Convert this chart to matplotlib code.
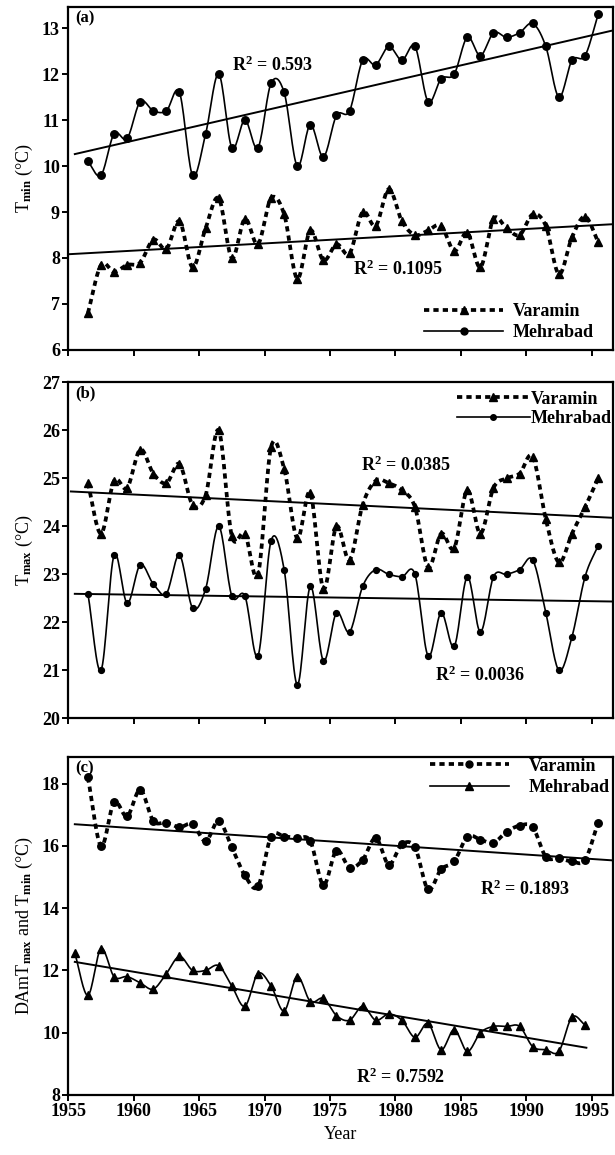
import matplotlib
matplotlib.use('Agg')
import matplotlib.pyplot as plt
from matplotlib.lines import Line2D
import numpy as np

# --------------------------
# style: bold Times-like serif, black lines only
# --------------------------
plt.rcParams.update({
    'font.family': ['Liberation Serif', 'DejaVu Serif'],
    'font.weight': 'bold',
    'font.size': 13,
    'mathtext.fontset': 'custom',
    'mathtext.rm': 'Liberation Serif:bold',
    'mathtext.it': 'Liberation Serif:italic:bold',
    'mathtext.bf': 'Liberation Serif:bold',
    'axes.linewidth': 1.6,
    'xtick.major.width': 1.4,
    'ytick.major.width': 1.4,
    'xtick.major.size': 4,
    'ytick.major.size': 4,
    'xtick.major.pad': 2,
    'ytick.major.pad': 2,
})

# --------------------------
# data
# --------------------------
years = list(range(1956, 1996))          # Varamin + Mehrabad (a), (b), Varamin (c)
years_dtr_mehrabad = list(range(1955, 1995))

tmin_varamin = [6.8, 7.85, 7.7, 7.85, 7.9, 8.4, 8.2, 8.8, 7.8, 8.65,
                9.3, 8.0, 8.85, 8.3, 9.3, 8.95, 7.55, 8.6, 7.95, 8.3,
                8.1, 9.0, 8.7, 9.5, 8.8, 8.5, 8.6, 8.7, 8.15, 8.55,
                7.8, 8.85, 8.65, 8.5, 8.95, 8.7, 7.65, 8.45, 8.9, 8.35]
tmin_mehrabad = [10.1, 9.8, 10.7, 10.6, 11.4, 11.2, 11.2, 11.6, 9.8, 10.7,
                 12.0, 10.4, 11.0, 10.4, 11.8, 11.6, 10.0, 10.9, 10.2, 11.1,
                 11.2, 12.3, 12.2, 12.6, 12.3, 12.6, 11.4, 11.9, 12.0, 12.8,
                 12.4, 12.9, 12.8, 12.9, 13.1, 12.6, 11.5, 12.3, 12.4, 13.3]

tmax_varamin = [24.9, 23.85, 24.95, 24.8, 25.6, 25.1, 24.9, 25.3, 24.45, 24.65,
                26.0, 23.8, 23.85, 23.0, 25.65, 25.2, 23.75, 24.7, 22.7, 24.0,
                23.3, 24.45, 24.95, 24.9, 24.75, 24.4, 23.15, 23.85, 23.55, 24.75,
                23.85, 24.8, 25.0, 25.1, 25.45, 24.15, 23.25, 23.85, 24.4, 25.0]
tmax_mehrabad = [22.6, 21.0, 23.4, 22.4, 23.2, 22.8, 22.6, 23.4, 22.3, 22.7,
                 24.0, 22.55, 22.55, 21.3, 23.7, 23.1, 20.7, 22.75, 21.2, 22.2,
                 21.8, 22.75, 23.1, 23.0, 22.95, 23.0, 21.3, 22.2, 21.5, 22.95,
                 21.8, 22.95, 23.0, 23.1, 23.3, 22.2, 21.0, 21.7, 22.95, 23.6]

dtr_varamin = [18.2, 16.0, 17.4, 16.95, 17.8, 16.8, 16.75, 16.6, 16.7, 16.15,
               16.8, 15.95, 15.05, 14.7, 16.3, 16.3, 16.25, 16.15, 14.75, 15.85,
               15.3, 15.55, 16.25, 15.4, 16.05, 15.95, 14.6, 15.25, 15.5, 16.3,
               16.2, 16.1, 16.45, 16.65, 16.6, 15.65, 15.6, 15.5, 15.55, 16.75]
dtr_mehrabad = [12.55, 11.2, 12.7, 11.8, 11.8, 11.6, 11.4, 11.9, 12.45, 12.0,
                12.0, 12.15, 11.5, 10.85, 11.9, 11.5, 10.7, 11.8, 11.0, 11.1,
                10.55, 10.4, 10.85, 10.4, 10.6, 10.4, 9.85, 10.3, 9.45, 10.1,
                9.4, 10.0, 10.2, 10.2, 10.2, 9.55, 9.45, 9.4, 10.5, 10.25]

r2_labels = {
    'a_mehrabad': '0.593', 'a_varamin': '0.1095',
    'b_varamin': '0.0385', 'b_mehrabad': '0.0036',
    'c_varamin': '0.1893', 'c_mehrabad': '0.7592',
}


# --------------------------
# helpers
# --------------------------
def smooth(x, y, n=16):
    """Catmull-Rom curve through the points (like Excel's smoothed line)."""
    x = np.asarray(x, float)
    y = np.asarray(y, float)
    out = []
    for v in (x, y):
        p = np.concatenate([[2 * v[0] - v[1]], v, [2 * v[-1] - v[-2]]])
        p0, p1, p2, p3 = p[:-3], p[1:-2], p[2:-1], p[3:]
        t = np.linspace(0, 1, n, endpoint=False)[:, None]
        c = 0.5 * (2 * p1 + (-p0 + p2) * t + (2 * p0 - 5 * p1 + 4 * p2 - p3) * t ** 2
                   + (-p0 + 3 * p1 - 3 * p2 + p3) * t ** 3)
        out.append(np.append(c.T.ravel(), v[-1]))
    return out


DASH = dict(lw=2.7, dashes=(1.4, 1.1), color='black')
SOLID = dict(lw=1.2, color='black')


def series(ax, yrs, vals, dashed, marker, ms):
    x = np.asarray(yrs) + 0.5   # points sit in the middle of each year
    sx, sy = smooth(x, vals)
    ax.plot(sx, sy, **(DASH if dashed else SOLID))
    ax.plot(x, vals, ls='none', marker=marker, ms=ms, color='black', zorder=3)


def trend(ax, yrs, vals, x0, x1):
    x = np.asarray(yrs) + 0.5
    k, b = np.polyfit(x, vals, 1)
    xs = np.array([x0, x1])
    ax.plot(xs, k * xs + b, color='black', lw=1.4, zorder=2)


def handle(dashed, marker, ms):
    style = DASH if dashed else SOLID
    return Line2D([], [], marker=marker, ms=ms, markerfacecolor='black',
                  markeredgecolor='black', **style)


def frame(ax, ylim, yticks, panel):
    ax.set_xlim(1955, 1996.6)
    ax.set_xticks(range(1955, 2000, 5))
    ax.set_ylim(*ylim)
    ax.set_yticks(yticks)
    ax.tick_params(direction='out')
    ax.text(0.012, 0.99, panel, transform=ax.transAxes, va='top', ha='left', fontsize=12)


fig = plt.figure(figsize=(6.15, 11.55), dpi=100)
L, W = 0.111, 0.885
ax1 = fig.add_axes([L, 0.697, W, 0.297])
ax2 = fig.add_axes([L, 0.378, W, 0.291])
ax3 = fig.add_axes([L, 0.052, W, 0.293])

# --------------------------
# (a) Tmin
# --------------------------
series(ax1, years, tmin_mehrabad, False, 'o', 5.4)
series(ax1, years, tmin_varamin, True, '^', 6)
trend(ax1, years, tmin_mehrabad, 1955.5, 1996.6)
trend(ax1, years, tmin_varamin, 1955.0, 1996.6)
frame(ax1, (6, 13.46), range(6, 14), '(a)')
ax1.set_xticklabels([])
ax1.set_ylabel(r'T$_{\rm min}$ (°C)')
ax1.text(1970.6, 12.2, 'R$^2$ = ' + r2_labels['a_mehrabad'], ha='center', va='center')
ax1.text(1980.2, 7.76, 'R$^2$ = ' + r2_labels['a_varamin'], ha='center', va='center')
ax1.legend([handle(True, '^', 6), handle(False, 'o', 5)], ['Varamin', 'Mehrabad'],
           loc='lower right', bbox_to_anchor=(0.965, 0.025), frameon=False,
           handlelength=4.4, handletextpad=0.5, labelspacing=0.25,
           borderaxespad=0, borderpad=0)

# --------------------------
# (b) Tmax
# --------------------------
series(ax2, years, tmax_mehrabad, False, 'o', 4.2)
series(ax2, years, tmax_varamin, True, '^', 6)
trend(ax2, years, tmax_varamin, 1955.2, 1996.6)
trend(ax2, years, tmax_mehrabad, 1955.5, 1996.6)
frame(ax2, (20, 27), range(20, 28), '(b)')
ax2.set_xticklabels([])
ax2.set_ylabel(r'T$_{\rm max}$ (°C)')
ax2.text(1980.8, 25.27, 'R$^2$ = ' + r2_labels['b_varamin'], ha='center', va='center')
ax2.text(1986.5, 20.89, 'R$^2$ = ' + r2_labels['b_mehrabad'], ha='center', va='center')
ax2.legend([handle(True, '^', 6), handle(False, 'o', 4)], ['Varamin', 'Mehrabad'],
           loc='upper right', bbox_to_anchor=(0.998, 0.975), frameon=False,
           handlelength=4.0, handletextpad=0.05, labelspacing=0.15,
           borderaxespad=0, borderpad=0)

# --------------------------
# (c) DTR
# --------------------------
series(ax3, years_dtr_mehrabad, dtr_mehrabad, False, '^', 6.4)
series(ax3, years, dtr_varamin, True, 'o', 5.4)
trend(ax3, years, dtr_varamin, 1955.5, 1996.6)
trend(ax3, years_dtr_mehrabad, dtr_mehrabad, 1955.5, 1994.6)
frame(ax3, (8, 18.87), range(8, 19, 2), '(c)')
ax3.set_xlabel('Year', labelpad=4)
ax3.set_ylabel(r'DAmT$_{\rm max}$ and T$_{\rm min}$ (°C)')
ax3.text(1989.9, 14.59, 'R$^2$ = ' + r2_labels['c_varamin'], ha='center', va='center')
ax3.text(1980.4, 8.58, 'R$^2$ = ' + r2_labels['c_mehrabad'], ha='center', va='center')
ax3.legend([handle(True, 'o', 5), handle(False, '^', 6)], ['Varamin', 'Mehrabad'],
           loc='upper right', bbox_to_anchor=(0.995, 0.997), frameon=False,
           handlelength=4.4, handletextpad=1.1, labelspacing=0.25,
           borderaxespad=0, borderpad=0)

for ax in (ax1, ax2, ax3):
    ax.yaxis.set_label_coords(-0.062, 0.5)

fig.savefig('out.png', dpi=100)
